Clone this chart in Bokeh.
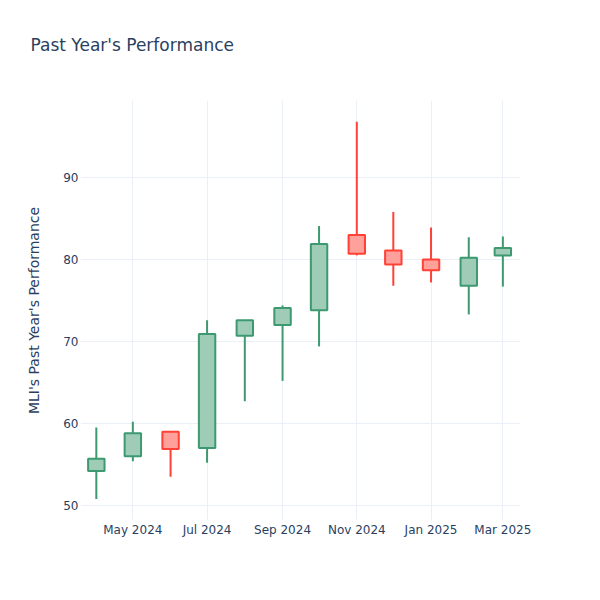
import numpy as np
import pandas as pd
from datetime import datetime
from bokeh.plotting import figure
from bokeh.models import ColumnDataSource, FixedTicker, DatetimeTickFormatter, Range1d, Title
from bokeh.embed import file_html
from bokeh.resources import INLINE

# ---- data (monthly candles) ----
dates = ["2024-04-01", "2024-05-01", "2024-06-01", "2024-07-01", "2024-08-01", "2024-09-01",
         "2024-10-01", "2024-11-01", "2024-12-01", "2025-01-01", "2025-02-01", "2025-03-01"]
opens = [54.2, 56.0, 59.0, 57.0, 70.7, 72.0, 73.8, 83.0, 81.1, 80.0, 76.8, 80.5]
highs = [59.5, 60.2, 59.0, 72.6, 72.6, 74.4, 84.1, 96.8, 85.8, 83.9, 82.7, 82.8]
lows = [50.8, 55.4, 53.5, 55.2, 62.7, 65.2, 69.4, 80.5, 76.8, 77.2, 73.3, 76.7]
closes = [55.7, 58.8, 56.9, 70.9, 72.6, 74.1, 81.9, 80.7, 79.4, 78.7, 80.2, 81.4]

y_ticks = [50, 60, 70, 80, 90]
x_tick_dates = ["2024-05-01", "2024-07-01", "2024-09-01", "2024-11-01", "2025-01-01", "2025-03-01"]
title_text = "Past Year's Performance"
y_title = "MLI's Past Year's Performance"

TEXT = "#2a3f5f"
GRID = "#EBF0F8"
INC_LINE, INC_FILL = "#3D9970", "#9ECCB7"
DEC_LINE, DEC_FILL = "#FF4136", "#FFA09A"
FONT = "DejaVu Sans"

df = pd.DataFrame({"date": pd.to_datetime(dates), "open": opens, "high": highs,
                   "low": lows, "close": closes})
df["top"] = np.maximum(df["open"], df["close"])
df["bottom"] = np.minimum(df["open"], df["close"])
inc = df[df["close"] >= df["open"]]
dec = df[df["close"] < df["open"]]

p = figure(width=584, height=584, x_axis_type="datetime", output_backend="svg",
           toolbar_location=None,
           x_range=Range1d(datetime(2024, 3, 19), datetime(2025, 3, 15, 12)),
           y_range=Range1d(48.17, 99.39),
           min_border_left=80, min_border_right=64, min_border_top=100, min_border_bottom=64)

p.background_fill_color = "white"
p.border_fill_color = "white"
p.outline_line_color = None

# spacer between frame and title, then the title itself (farther from the frame)
p.add_layout(Title(text=" ", text_font=FONT, text_font_size="12px", standoff=30), "above")
p.add_layout(Title(text=title_text, text_font=FONT, text_font_size="17px",
                   text_font_style="normal", text_color=TEXT, align="left",
                   offset=-50, standoff=0), "above")

width_ms = 13.5 * 24 * 3600 * 1000

for sub, lc, fc in [(inc, INC_LINE, INC_FILL), (dec, DEC_LINE, DEC_FILL)]:
    src = ColumnDataSource(sub)
    p.segment(x0="date", y0="high", x1="date", y1="top", source=src, line_color=lc, line_width=2)
    p.segment(x0="date", y0="bottom", x1="date", y1="low", source=src, line_color=lc, line_width=2)
    p.vbar(x="date", top="top", bottom="bottom", width=width_ms, source=src,
           fill_color=fc, line_color=lc, line_width=2)

# axes
for ax in (p.xaxis[0], p.yaxis[0]):
    ax.axis_line_color = None
    ax.major_tick_line_color = None
    ax.minor_tick_line_color = None
    ax.major_tick_out = 0
    ax.major_tick_in = 0
    ax.minor_tick_out = 0
    ax.minor_tick_in = 0
    ax.major_label_text_font = FONT
    ax.major_label_text_font_size = "12px"
    ax.major_label_text_color = TEXT

p.xaxis.ticker = FixedTicker(ticks=[pd.Timestamp(d).value / 1e6 for d in x_tick_dates])
p.xaxis.formatter = DatetimeTickFormatter(months="%b %Y", days="%b %Y", years="%b %Y")
p.xaxis.major_label_standoff = 2

p.yaxis.ticker = FixedTicker(ticks=y_ticks)
p.yaxis.major_label_standoff = 2
p.yaxis.axis_label = y_title
p.yaxis.axis_label_text_font = FONT
p.yaxis.axis_label_text_font_size = "14px"
p.yaxis.axis_label_text_font_style = "normal"
p.yaxis.axis_label_text_color = TEXT
p.yaxis.axis_label_standoff = 18

p.xgrid.grid_line_color = GRID
p.ygrid.grid_line_color = GRID
p.xgrid.grid_line_width = 1
p.ygrid.grid_line_width = 1

open("out.html", "w").write(file_html(p, INLINE))
